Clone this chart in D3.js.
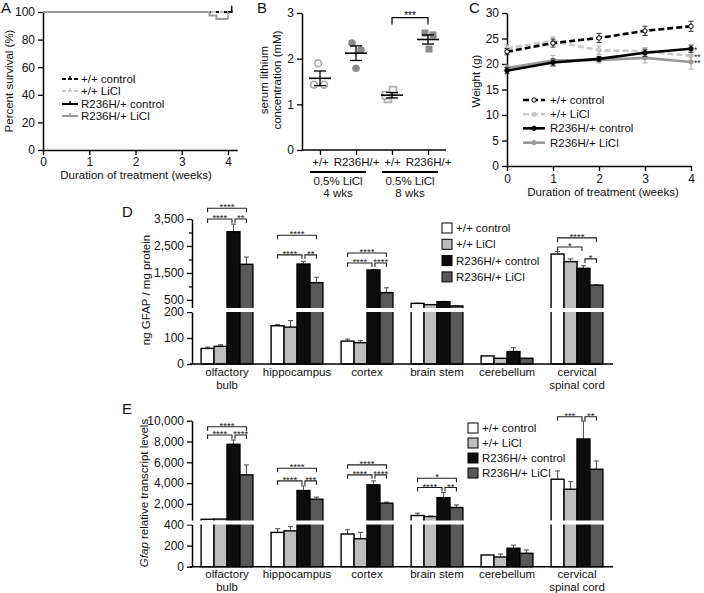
<!DOCTYPE html>
<html><head><meta charset="utf-8">
<script src="https://cdn.jsdelivr.net/npm/d3@7"></script>
<style>body{margin:0;background:#fff} svg{font-family:"Liberation Sans",Arial,sans-serif}</style>
</head><body><svg id="c" width="704" height="593"></svg>
<script>
// ================= DATA =================
const groups=["+/+ control","+/+ LiCl","R236H/+ control","R236H/+ LiCl"];

// Panel A: survival (Kaplan-Meier steps [week, %])
const survXTicks=[0,1,2,3,4];
const survYTicks=[0,20,40,60,80,100];
const survWTctl=[[0,100],[4.1,100]];
const survWTLi=[[0,100],[4,100]];
const survMutCtl=[[0,100],[4.1,100]];
const survMutLi=[[0,100],[3.6,97.5],[3.75,95],[4,95]];

// Panel B: serum lithium (mM)
const liLabels=["+/+","R236H/+","+/+","R236H/+"];
const liTreat=["0.5% LiCl","0.5% LiCl"];
const liDur=["4 wks","8 wks"];
const liPoints=[[1.9,1.43,1.43],[2.34,2.19,1.79],[1.31,1.12,1.2],[2.56,2.52,2.21]];
const liMean=[1.57,2.12,1.2,2.42];
const liSem=[0.16,0.16,0.06,0.1];
const liYTicks=[0,1,2,3];
const liSig=[[2,3,2.9,"***"]];

// Panel C: weight (g)
const wWeeks=[0,1,2,3,4];
const wYTicks=[0,5,10,15,20,25,30];
const wWTctl=[22.4,24.1,25.1,26.5,27.4];
const wWTctlErr=[0.6,0.8,0.9,0.9,1.0];
const wWTLi=[23.1,24.5,22.7,22.5,21.6];
const wWTLiErr=[0.7,0.8,0.8,0.7,0.9];
const wMutCtl=[18.7,20.3,21.0,22.2,23.0];
const wMutCtlErr=[0.6,0.7,0.5,0.7,0.7];
const wMutLi=[19.2,20.7,20.8,21.2,20.4];
const wMutLiErr=[0.6,1.0,0.6,1.0,1.4];
const wSigLabels=["","**","*","**"];

// Panels D/E regions
const regions=["olfactory bulb","hippocampus","cortex","brain stem","cerebellum","cervical spinal cord"];
const regionLines=[["olfactory","bulb"],["hippocampus"],["cortex"],["brain stem"],["cerebellum"],["cervical","spinal cord"]];

// Panel D: ng GFAP / mg protein
const gfapWTctl=[60,147,88,372,31,2200];
const gfapWTLi=[68,142,82,325,22,1920];
const gfapMutCtl=[3030,1830,1610,434,48,1670];
const gfapMutLi=[1820,1140,770,275,22,1050];
const gfapWTctlErr=[5,5,8,5,0,90];
const gfapWTLiErr=[6,25,8,5,0,100];
const gfapMutCtlErr=[280,100,20,10,15,100];
const gfapMutLiErr=[270,200,180,5,0,10];
const gfapUpperTicks=[500,1000,1500,2000,2500,3000,3500];
const gfapLowerTicks=[0,100,200];
// [region, fromGroup, toGroup, y value, label]
const gfapSig=[[0,0,3,3900,"****"],[0,0,2,3500,"****"],[0,2,3,3500,"**"],
  [1,0,3,2900,"****"],[1,0,2,2170,"****"],[1,2,3,2170,"**"],
  [2,0,3,2240,"****"],[2,0,2,1870,"****"],[2,2,3,1870,"****"],
  [5,0,3,2800,"****"],[5,0,2,2460,"*"],[5,2,3,2020,"*"]];

// Panel E: Gfap relative transcript levels
const tWTctl=[520,325,310,880,111,4370];
const tWTLi=[540,340,265,780,92,3410];
const tMutCtl=[7730,3280,3830,2600,175,8240];
const tMutLi=[4790,2450,2070,1650,127,5330];
const tWTctlErr=[0,35,40,230,0,800];
const tWTLiErr=[0,40,60,40,28,730];
const tMutCtlErr=[410,450,380,490,29,1730];
const tMutLiErr=[960,200,100,250,32,800];
const tUpperTicks=[2000,4000,6000,8000,10000];
const tLowerTicks=[0,200,400];
const tSig=[[0,0,3,9420,"****"],[0,0,2,8620,"****"],[0,2,3,8620,"****"],
  [1,0,3,5430,"****"],[1,0,2,4210,"****"],[1,2,3,4210,"***"],
  [2,0,3,5750,"****"],[2,0,2,4790,"****"],[2,2,3,4790,"****"],
  [3,0,3,4470,"*"],[3,0,2,3570,"****"],[3,2,3,3570,"**"],
  [5,0,2,10380,"***"],[5,2,3,10380,"**"]];

// ================= DRAW =================
const svg=d3.select("#c");
const TF=12, LF=11.5;
const barFill=["#ffffff","#bdbdbd","#0d0d0d","#595959"];
const intFmt=d3.format("d");

function styleAxis(g,fs){
  g.selectAll("path.domain").attr("stroke","#000").attr("stroke-width",1.5);
  g.selectAll(".tick line").attr("stroke","#000").attr("stroke-width",1.3);
  g.selectAll(".tick text").attr("font-size",fs||TF).attr("fill","#111")
   .attr("font-family",'"Liberation Sans",Arial,sans-serif');
  return g;
}
function label(t,x,y){
  svg.append("text").attr("x",x).attr("y",y).attr("font-size",15).attr("fill","#111").text(t);
}
function rotTitle(x,y,t,fs){
  return svg.append("text").attr("transform",`translate(${x},${y}) rotate(-90)`)
    .attr("text-anchor","middle").attr("font-size",fs||LF).attr("fill","#111").text(t);
}

// ---- Panel A ----
{
  const x=d3.scaleLinear([0,4.2],[43,237.25]);
  const y=d3.scaleLinear([0,100],[150,12]);
  styleAxis(svg.append("g").attr("transform","translate(43,0)")
    .call(d3.axisLeft(y).tickValues(survYTicks).tickFormat(intFmt).tickSize(5).tickSizeOuter(0)));
  styleAxis(svg.append("g").attr("transform","translate(0,150)")
    .call(d3.axisBottom(x).tickValues(survXTicks).tickFormat(intFmt).tickSize(5).tickPadding(2).tickSizeOuter(0)));
  const line=d3.line().x(d=>x(d[0])).y(d=>y(d[1])).curve(d3.curveStepAfter);
  const ser=[
    {d:survMutCtl,c:"#000",dash:null},
    {d:survWTctl,c:"#000",dash:"5,3"},
    {d:survWTLi,c:"#c8c8c8",dash:"5,3"},
    {d:survMutLi,c:"#999",dash:null}];
  ser.forEach(s=>{
    svg.append("path").attr("d",line(s.d)).attr("fill","none").attr("stroke",s.c)
      .attr("stroke-width",2).attr("stroke-dasharray",s.dash);
  });
  // censor marks
  svg.append("line").attr("x1",x(4.08)).attr("x2",x(4.08)).attr("y1",y(100)).attr("y2",y(104.5)).attr("stroke","#000").attr("stroke-width",1.5);
  svg.append("line").attr("x1",x(4)).attr("x2",x(4)).attr("y1",y(95)).attr("y2",y(100)).attr("stroke","#999").attr("stroke-width",1.5);
  // legend
  const lg=[[groups[0],"#000","4,2"],[groups[1],"#c8c8c8","4,2"],[groups[2],"#000",null],[groups[3],"#999",null]];
  const ly=[79,91,104,116];
  lg.forEach((l,i)=>{
    svg.append("line").attr("x1",62).attr("x2",78).attr("y1",ly[i]).attr("y2",ly[i])
      .attr("stroke",l[1]).attr("stroke-width",2).attr("stroke-dasharray",l[2]);
    svg.append("line").attr("x1",70).attr("x2",70).attr("y1",ly[i]-3).attr("y2",ly[i])
      .attr("stroke",l[1]).attr("stroke-width",1.5);
    svg.append("text").attr("x",81).attr("y",ly[i]+4).attr("font-size",LF).attr("fill","#111").text(l[0]);
  });
  rotTitle(13,81,"Percent survival (%)");
  svg.append("text").attr("x",136).attr("y",179).attr("text-anchor","middle").attr("font-size",LF).attr("fill","#111").text("Duration of treatment (weeks)");
  label("A",1,13);
}

// ---- Panel B ----
{
  const x=d3.scalePoint(d3.range(4),[302,446]).padding(0.5);
  const y=d3.scaleLinear([0,3],[150,13]);
  styleAxis(svg.append("g").attr("transform","translate(302,0)")
    .call(d3.axisLeft(y).tickValues(liYTicks).tickFormat(intFmt).tickSize(5).tickSizeOuter(0)));
  const ax=svg.append("g").attr("transform","translate(0,150)")
    .call(d3.axisBottom(x).tickSize(5).tickSizeOuter(0).tickFormat(i=>liLabels[i]));
  styleAxis(ax,LF);
  ax.select("path.domain").attr("d","M302,0H446");
  const jit=[[-2,-6,4],[-4,5,0],[1,-4,-6],[-3,5,1]];
  liPoints.forEach((pts,gi)=>{
    const filled=gi%2===1, square=gi>=2;
    const col=filled?"#8a8a8a":"#b0b0b0";
    pts.forEach((v,j)=>{
      const cx=x(gi)+jit[gi][j], cy=y(v);
      if(square){
        svg.append("rect").attr("x",cx-3.5).attr("y",cy-3.5).attr("width",7).attr("height",7)
          .attr("fill",filled?col:"#fff").attr("stroke",col).attr("stroke-width",filled?0:1.8);
      }else{
        svg.append("circle").attr("cx",cx).attr("cy",cy).attr("r",filled?3.8:3.4)
          .attr("fill",filled?col:"#fff").attr("stroke",col).attr("stroke-width",filled?0:1.8);
      }
    });
    const cx=x(gi);
    svg.append("line").attr("x1",cx-11).attr("x2",cx+11).attr("y1",y(liMean[gi])).attr("y2",y(liMean[gi])).attr("stroke","#000").attr("stroke-width",1.6);
    svg.append("line").attr("x1",cx).attr("x2",cx).attr("y1",y(liMean[gi]-liSem[gi])).attr("y2",y(liMean[gi]+liSem[gi])).attr("stroke","#000").attr("stroke-width",1.3);
    [liMean[gi]-liSem[gi],liMean[gi]+liSem[gi]].forEach(v=>{
      svg.append("line").attr("x1",cx-6).attr("x2",cx+6).attr("y1",y(v)).attr("y2",y(v)).attr("stroke","#000").attr("stroke-width",1.3);
    });
  });
  liSig.forEach(s=>{
    const x1=x(s[0]),x2=x(s[1]),yy=y(s[2]);
    svg.append("path").attr("d",`M${x1},${yy+7}V${yy}H${x2}V${yy+7}`).attr("fill","none").attr("stroke","#000").attr("stroke-width",1.2);
    svg.append("text").attr("x",(x1+x2)/2).attr("y",yy+1).attr("text-anchor","middle").attr("font-size",10).text(s[3]);
  });
  [[0,1],[2,3]].forEach((p,k)=>{
    const x1=x(p[0])-10,x2=x(p[1])+10,cx=(x(p[0])+x(p[1]))/2;
    svg.append("line").attr("x1",x1).attr("x2",x2).attr("y1",172).attr("y2",172).attr("stroke","#000").attr("stroke-width",2);
    svg.append("text").attr("x",cx).attr("y",185).attr("text-anchor","middle").attr("font-size",LF).attr("fill","#111").text(liTreat[k]);
    svg.append("text").attr("x",cx).attr("y",197).attr("text-anchor","middle").attr("font-size",LF).attr("fill","#111").text(liDur[k]);
  });
  rotTitle(268,80,"serum lithium");
  rotTitle(281,80,"concentration  (mM)");
  label("B",257,13);
}

// ---- Panel C ----
{
  const x=d3.scaleLinear([0,4],[507,691]);
  const y=d3.scaleLinear([0,30],[166,13]);
  styleAxis(svg.append("g").attr("transform","translate(507,0)")
    .call(d3.axisLeft(y).tickValues(wYTicks).tickFormat(intFmt).tickSize(5).tickSizeOuter(0)));
  styleAxis(svg.append("g").attr("transform","translate(0,166)")
    .call(d3.axisBottom(x).tickValues(wWeeks).tickFormat(intFmt).tickSize(5).tickSizeOuter(0)));
  const ser=[
    {v:wWTctl,e:wWTctlErr,c:"#000",dash:"6,3",mf:"#fff",ms:"#000"},
    {v:wWTLi,e:wWTLiErr,c:"#c8c8c8",dash:"6,3",mf:"#c8c8c8",ms:"#c8c8c8"},
    {v:wMutCtl,e:wMutCtlErr,c:"#000",dash:null,mf:"#000",ms:"#000"},
    {v:wMutLi,e:wMutLiErr,c:"#999",dash:null,mf:"#999",ms:"#999"}];
  const line=d3.line().x((d,i)=>x(wWeeks[i])).y(d=>y(d));
  [1,3,2,0].forEach(si=>{
    const s=ser[si];
    s.v.forEach((v,i)=>{
      const cx=x(wWeeks[i]);
      const ec=si===0||si===2?"#333":"#aaa";
      svg.append("line").attr("x1",cx).attr("x2",cx).attr("y1",y(v-s.e[i])).attr("y2",y(v+s.e[i])).attr("stroke",ec).attr("stroke-width",1);
      [v-s.e[i],v+s.e[i]].forEach(t=>svg.append("line").attr("x1",cx-2.5).attr("x2",cx+2.5).attr("y1",y(t)).attr("y2",y(t)).attr("stroke",ec).attr("stroke-width",1));
    });
    svg.append("path").attr("d",line(s.v)).attr("fill","none").attr("stroke",s.c).attr("stroke-width",2.6).attr("stroke-dasharray",s.dash);
    s.v.forEach((v,i)=>{
      svg.append("circle").attr("cx",x(wWeeks[i])).attr("cy",y(v)).attr("r",2.2).attr("fill",s.mf).attr("stroke",s.ms).attr("stroke-width",1);
    });
    if(wSigLabels[si]) svg.append("text").attr("x",694).attr("y",y(s.v[4])+4.5).attr("font-size",8.5).attr("fill","#222").text(wSigLabels[si]);
  });
  const ly=[100,114.3,128.3,142.7];
  ser.forEach((s,i)=>{
    svg.append("line").attr("x1",523).attr("x2",545).attr("y1",ly[i]).attr("y2",ly[i]).attr("stroke",s.c).attr("stroke-width",2.6).attr("stroke-dasharray",s.dash);
    svg.append("circle").attr("cx",534).attr("cy",ly[i]).attr("r",2.2).attr("fill",s.mf).attr("stroke",s.ms);
    svg.append("text").attr("x",550).attr("y",ly[i]+4).attr("font-size",LF).attr("fill","#111").text(groups[i]);
  });
  rotTitle(480,81,"Weight (g)");
  svg.append("text").attr("x",603).attr("y",196).attr("text-anchor","middle").attr("font-size",LF).attr("fill","#111").text("Duration of treatment (weeks)");
  label("C",469,13);
}

// ---- Bar panels D / E ----
function barPanel(o){
  const x=d3.scaleBand(regions,[192,612]).paddingInner(0.26).paddingOuter(0.13);
  const xi=d3.scaleBand(d3.range(4),[0,x.bandwidth()]);
  const yU=d3.scaleLinear([o.brk,o.max],o.upR);
  const yL=d3.scaleLinear([0,o.brk],o.loR);
  const y=v=>v<=o.brk?yL(v):yU(v);
  // axes
  const gu=svg.append("g").attr("transform","translate(192,0)")
    .call(d3.axisLeft(yU).tickValues(o.uTicks).tickSize(5).tickSizeOuter(0).tickFormat(o.uFmt));
  styleAxis(gu);
  gu.selectAll(".tick").filter(d=>o.uFmt(d)==="").select("line").attr("x2",-3);
  styleAxis(svg.append("g").attr("transform","translate(192,0)")
    .call(d3.axisLeft(yL).tickValues(o.lTicks).tickFormat(intFmt).tickSize(5).tickSizeOuter(0)));
  // bars
  o.vals.forEach((arr,gi)=>{
    arr.forEach((v,ri)=>{
      const bx=x(regions[ri])+xi(gi), bw=xi.bandwidth();
      const e=o.errs[gi][ri];
      if(e>0){
        const cx=bx+bw/2;
        svg.append("line").attr("x1",cx).attr("x2",cx).attr("y1",y(v)).attr("y2",y(v+e)).attr("stroke","#555").attr("stroke-width",1.1);
        svg.append("line").attr("x1",cx-2.5).attr("x2",cx+2.5).attr("y1",y(v+e)).attr("y2",y(v+e)).attr("stroke","#555").attr("stroke-width",1.1);
      }
      svg.append("rect").attr("x",bx).attr("y",y(v)).attr("width",bw).attr("height",y(0)-y(v))
        .attr("fill",barFill[gi]).attr("stroke","#000").attr("stroke-width",1.4);
    });
  });
  // break band
  svg.append("rect").attr("x",186).attr("y",o.upR[0]).attr("width",430).attr("height",o.loR[1]-o.upR[0]).attr("fill","#fff");
  // x axis line
  svg.append("line").attr("x1",190).attr("x2",613).attr("y1",o.loR[0]).attr("y2",o.loR[0]).attr("stroke","#000").attr("stroke-width",1.5);
  // labels
  regionLines.forEach((ls,ri)=>{
    const cx=x(regions[ri])+x.bandwidth()/2;
    ls.forEach((t,k)=>svg.append("text").attr("x",cx).attr("y",o.lblY[k]).attr("text-anchor","middle").attr("font-size",11.5).attr("fill","#111").text(t));
  });
  // significance
  o.sig.forEach(s=>{
    const c=g=>x(regions[s[0]])+xi(g)+xi.bandwidth()/2;
    const x1=c(s[1])+(s[1]===2?1.5:0), x2=c(s[2])-(s[2]===2?1.5:0), yy=yU(s[3]);
    svg.append("path").attr("d",`M${x1},${yy+4}V${yy}H${x2}V${yy+4}`).attr("fill","none").attr("stroke","#222").attr("stroke-width",1.1);
    svg.append("text").attr("x",(x1+x2)/2).attr("y",yy+2).attr("text-anchor","middle").attr("font-size",9.5).attr("fill","#222").text(s[4]);
  });
  // legend
  groups.forEach((g,i)=>{
    const yy=o.legY+i*o.legDy;
    svg.append("rect").attr("x",o.legX).attr("y",yy-5).attr("width",10).attr("height",10).attr("fill",barFill[i]).attr("stroke","#000").attr("stroke-width",1);
    svg.append("text").attr("x",o.legX+14).attr("y",yy+4).attr("font-size",LF).attr("fill","#111").text(g);
  });
}

barPanel({brk:200,max:3500,upR:[308,219],loR:[364,312],
  uTicks:gfapUpperTicks,uFmt:d=>d%1000===500?d3.format(",")(d):"",lTicks:gfapLowerTicks,
  vals:[gfapWTctl,gfapWTLi,gfapMutCtl,gfapMutLi],errs:[gfapWTctlErr,gfapWTLiErr,gfapMutCtlErr,gfapMutLiErr],
  sig:gfapSig,lblY:[376,389],legX:442,legY:228,legDy:16.3});
rotTitle(150,290,"ng GFAP / mg protein");
label("D",122,217);

barPanel({brk:400,max:10000,upR:[520.5,420.7],loR:[566.7,524.5],
  uTicks:tUpperTicks,uFmt:d3.format(","),lTicks:tLowerTicks,
  vals:[tWTctl,tWTLi,tMutCtl,tMutLi],errs:[tWTctlErr,tWTLiErr,tMutCtlErr,tMutLiErr],
  sig:tSig,lblY:[578,591],legX:468,legY:428,legDy:15});
{
  const t=rotTitle(148,493,"");
  t.append("tspan").attr("font-style","italic").text("Gfap");
  t.append("tspan").text(" relative transcript levels");
}
label("E",122,414);
</script></body></html>
